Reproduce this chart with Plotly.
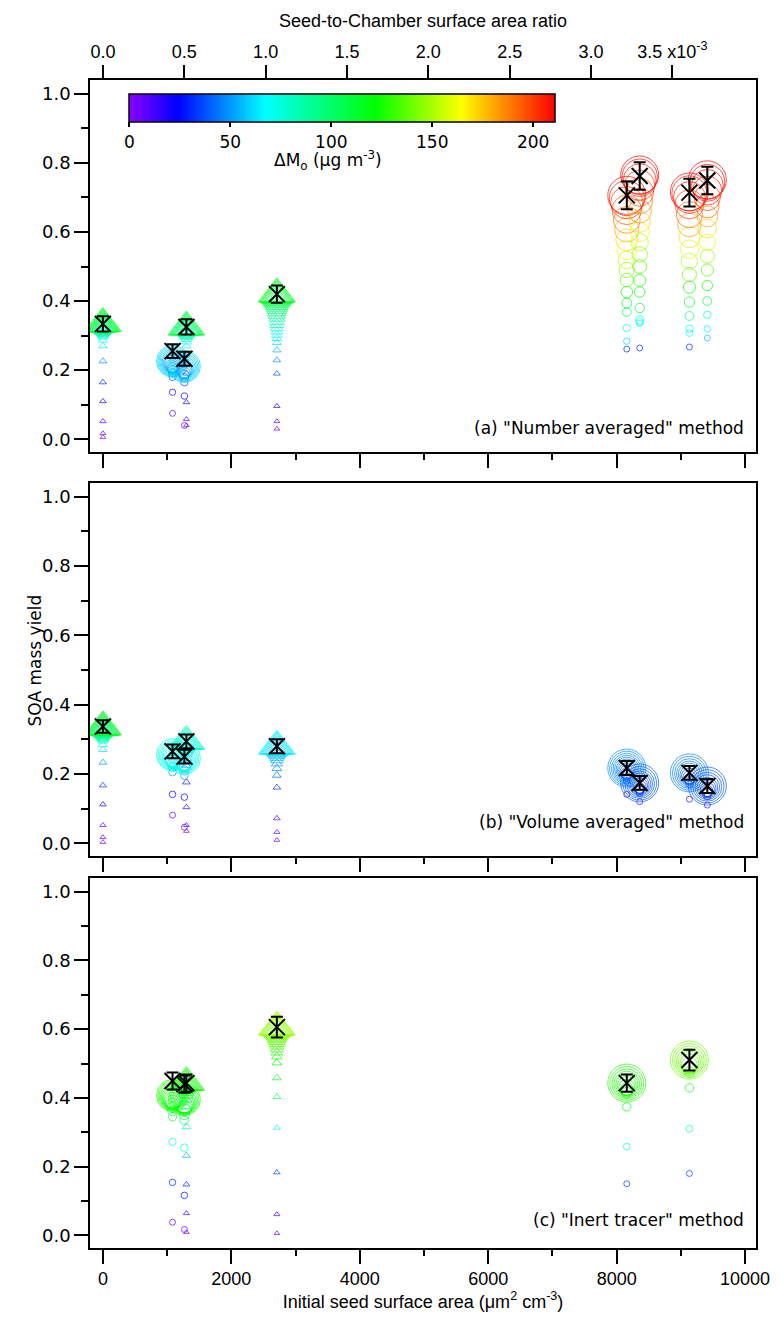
import numpy as np
import plotly.graph_objects as go

# ---------------- data ----------------
# initial seed surface area of each experiment (um2 cm-3)
SA_T1, SA_C1, SA_C2, SA_T2, SA_T3 = 0, 1084, 1269, 1300, 2709
SA_H1, SA_H2, SA_H3, SA_H4 = 8158, 8359, 9133, 9412

# seed-to-chamber surface area ratio (x1e-3) per unit of seed surface area
RATIO_PER_SA = 1 / 2534.0

# colour scale values (Delta Mo, ug m-3)
dmo_min, dmo_max = 0, 211
cbar_ticks = [0, 50, 100, 150, 200]

# ---- panel (a) "Number averaged" ----
a_T1_y = [0.006, 0.017, 0.052, 0.110, 0.165, 0.226, 0.270, 0.287, 0.296, 0.300, 0.303, 0.306, 0.309, 0.311, 0.313, 0.315, 0.317, 0.319, 0.321, 0.322, 0.324, 0.325, 0.326, 0.327, 0.328, 0.329, 0.330, 0.331, 0.332, 0.333, 0.334, 0.335]
a_T1_dm = [2, 4, 10, 20, 33, 50, 64, 70, 75, 78, 81, 84, 86, 88, 90, 92, 94, 96, 98, 99, 101, 102, 104, 105, 107, 108, 109, 110, 112, 113, 114, 115]
a_T2_y = [0.040, 0.058, 0.107, 0.190, 0.245, 0.270, 0.282, 0.290, 0.296, 0.300, 0.304, 0.307, 0.310, 0.312, 0.314, 0.316, 0.318, 0.319, 0.320, 0.321, 0.322, 0.323, 0.324, 0.325]
a_T2_dm = [5, 8, 18, 40, 55, 65, 70, 74, 78, 81, 84, 87, 90, 92, 94, 96, 98, 100, 102, 103, 105, 106, 108, 109]
a_T3_y = [0.030, 0.052, 0.096, 0.190, 0.229, 0.258, 0.280, 0.292, 0.302, 0.312, 0.322, 0.332, 0.342, 0.352, 0.361, 0.369, 0.377, 0.384, 0.390, 0.396, 0.401, 0.405, 0.409, 0.412, 0.415, 0.417, 0.419, 0.421]
a_T3_dm = [4, 7, 14, 38, 48, 56, 62, 66, 70, 74, 78, 82, 85, 88, 91, 94, 97, 100, 103, 105, 107, 109, 111, 113, 114, 116, 117, 118]
a_C1_y = [0.075, 0.136, 0.180, 0.192, 0.200, 0.206, 0.210, 0.213, 0.216, 0.218, 0.220, 0.221, 0.222, 0.223, 0.224, 0.225, 0.226]
a_C1_dm = [8, 20, 36, 41, 45, 48, 50, 52, 54, 55, 56, 57, 58, 59, 60, 60.5, 61]
a_C2_y = [0.040, 0.125, 0.165, 0.178, 0.186, 0.192, 0.197, 0.200, 0.203, 0.205, 0.207, 0.208, 0.209, 0.210, 0.211]
a_C2_dm = [6, 22, 36, 42, 46, 49, 52, 54, 56, 57, 58, 59, 60, 60.5, 61]
a_H1_y = [0.261, 0.284, 0.322, 0.368, 0.394, 0.426, 0.461, 0.490, 0.519, 0.548, 0.577, 0.606, 0.635, 0.664, 0.685, 0.698, 0.706]
a_H1_dm = [30, 62, 70, 105, 115, 125, 135, 145, 155, 163, 172, 180, 188, 196, 202, 206, 209]
a_H2_y = [0.264, 0.335, 0.340, 0.345, 0.380, 0.426, 0.460, 0.500, 0.535, 0.570, 0.600, 0.630, 0.660, 0.690, 0.715, 0.735, 0.750, 0.760, 0.765]
a_H2_dm = [30, 68, 70, 72, 108, 118, 126, 134, 142, 152, 162, 172, 182, 190, 197, 202, 206, 209, 211]
a_H3_y = [0.267, 0.307, 0.320, 0.357, 0.397, 0.440, 0.477, 0.515, 0.550, 0.585, 0.620, 0.650, 0.680, 0.700, 0.712, 0.716]
a_H3_dm = [32, 68, 72, 90, 112, 125, 138, 150, 160, 170, 182, 192, 200, 205, 208, 210]
a_H4_y = [0.293, 0.320, 0.360, 0.400, 0.445, 0.490, 0.530, 0.570, 0.610, 0.645, 0.675, 0.700, 0.720, 0.735, 0.745, 0.751]
a_H4_dm = [58, 66, 72, 108, 122, 135, 148, 160, 172, 182, 192, 200, 205, 208, 210, 211]
a_final_sa = [SA_T1, SA_C1, SA_C2, SA_T2, SA_T3, SA_H1, SA_H2, SA_H3, SA_H4]
a_final_y = [0.334, 0.255, 0.233, 0.325, 0.420, 0.706, 0.762, 0.714, 0.749]
a_final_err = [0.022, 0.020, 0.020, 0.022, 0.025, 0.040, 0.040, 0.040, 0.040]

# ---- panel (b) "Volume averaged" ----
b_T1_y = [0.003, 0.017, 0.052, 0.112, 0.167, 0.233, 0.270, 0.285, 0.295, 0.299, 0.302, 0.305, 0.308, 0.311, 0.313, 0.315, 0.317, 0.319, 0.321, 0.323, 0.324, 0.325, 0.327, 0.328, 0.329, 0.330, 0.331, 0.332, 0.333, 0.334, 0.335, 0.336]
b_T1_dm = [2, 4, 10, 20, 33, 50, 64, 70, 75, 78, 81, 84, 86, 88, 90, 92, 94, 96, 98, 99, 101, 102, 104, 105, 107, 108, 109, 110, 112, 113, 114, 115]
b_T2_y = [0.035, 0.052, 0.104, 0.176, 0.225, 0.245, 0.257, 0.265, 0.271, 0.276, 0.280, 0.283, 0.286, 0.288, 0.290, 0.291, 0.292, 0.293, 0.294]
b_T2_dm = [5, 8, 16, 32, 48, 54, 58, 62, 65, 68, 70, 72, 74, 76, 77, 78, 79, 80, 81]
b_T3_y = [0.009, 0.032, 0.072, 0.161, 0.196, 0.216, 0.230, 0.240, 0.248, 0.254, 0.259, 0.263, 0.267, 0.270, 0.273, 0.275, 0.277, 0.278, 0.279, 0.280]
b_T3_dm = [2, 5, 10, 32, 42, 48, 51, 53, 55, 57, 58, 59, 60, 61, 62, 63, 63.5, 64, 64.5, 65]
b_C1_y = [0.081, 0.141, 0.205, 0.220, 0.230, 0.236, 0.241, 0.245, 0.248, 0.250, 0.252, 0.253, 0.254, 0.255]
b_C1_dm = [9, 24, 50, 57, 62, 65, 67, 69, 70, 71, 72, 73, 74, 75]
b_C2_y = [0.046, 0.133, 0.195, 0.210, 0.220, 0.227, 0.232, 0.236, 0.239, 0.241, 0.243, 0.244, 0.245]
b_C2_dm = [7, 25, 50, 57, 61, 64, 66, 68, 70, 71, 72, 73, 74]
b_H1_y = [0.141, 0.180, 0.190, 0.197, 0.202, 0.206, 0.209, 0.211, 0.212, 0.213, 0.214, 0.215, 0.216, 0.217]
b_H1_dm = [15, 30, 34, 37, 40, 42, 44, 45, 46, 47, 47.5, 48, 48.5, 49]
b_H2_y = [0.120, 0.145, 0.153, 0.159, 0.163, 0.166, 0.168, 0.170, 0.171, 0.172, 0.173, 0.174]
b_H2_dm = [12, 26, 30, 33, 35, 36.5, 37.5, 38.5, 39, 39.5, 40, 40.5]
b_H3_y = [0.127, 0.170, 0.180, 0.186, 0.190, 0.194, 0.197, 0.199, 0.200, 0.201, 0.202, 0.203]
b_H3_dm = [15, 30, 34, 37, 39, 41, 43, 44, 45, 45.5, 46, 46.5]
b_H4_y = [0.110, 0.135, 0.145, 0.151, 0.155, 0.158, 0.160, 0.162, 0.163, 0.164, 0.165]
b_H4_dm = [12, 26, 30, 33, 35, 36.5, 37.5, 38.5, 39, 39.5, 40]
b_final_sa = [SA_T1, SA_C1, SA_C2, SA_T2, SA_T3, SA_H1, SA_H2, SA_H3, SA_H4]
b_final_y = [0.337, 0.265, 0.250, 0.294, 0.280, 0.217, 0.174, 0.203, 0.165]
b_final_err = [0.018, 0.020, 0.020, 0.020, 0.020, 0.020, 0.020, 0.020, 0.020]

# ---- panel (c) "Inert tracer" ----
c_C1_y = [0.038, 0.154, 0.272, 0.345, 0.362, 0.373, 0.381, 0.387, 0.392, 0.396, 0.399, 0.401, 0.403, 0.405, 0.406, 0.407]
c_C1_dm = [8, 30, 75, 103, 109, 113, 116, 119, 121, 123, 124, 125, 126, 127, 127.5, 128]
c_C2_y = [0.017, 0.116, 0.255, 0.335, 0.352, 0.364, 0.372, 0.378, 0.383, 0.387, 0.390, 0.392, 0.394, 0.395]
c_C2_dm = [5, 25, 72, 101, 107, 112, 115, 118, 120, 122, 123, 124, 125, 126]
c_T2_y = [0.009, 0.064, 0.148, 0.232, 0.316, 0.375, 0.395, 0.408, 0.417, 0.424, 0.429, 0.433, 0.436, 0.438, 0.440, 0.442, 0.443, 0.444, 0.445]
c_T2_dm = [3, 12, 30, 55, 80, 103, 109, 113, 116, 118, 120, 121, 122, 123, 124, 125, 126, 126.5, 127]
c_T3_y = [0.006, 0.061, 0.183, 0.313, 0.403, 0.458, 0.502, 0.520, 0.532, 0.542, 0.551, 0.559, 0.566, 0.572, 0.577, 0.582, 0.586, 0.590, 0.594, 0.597, 0.600, 0.602, 0.604, 0.605, 0.606]
c_T3_dm = [2, 12, 35, 75, 100, 112, 122, 126, 129, 131, 133, 135, 137, 138, 139, 140, 141, 142, 143, 144, 145, 146, 146.5, 147, 148]
c_H1_y = [0.150, 0.258, 0.374, 0.415, 0.425, 0.431, 0.435, 0.438, 0.440, 0.441, 0.442, 0.443]
c_H1_dm = [35, 75, 112, 119, 122, 124, 125, 126, 126.5, 127, 127.5, 128]
c_H3_y = [0.180, 0.310, 0.429, 0.475, 0.488, 0.496, 0.501, 0.504, 0.506, 0.508, 0.509, 0.510]
c_H3_dm = [35, 80, 115, 128, 132, 135, 137, 138, 139, 140, 140.5, 141]
c_final_sa = [SA_C1, SA_C2, SA_T2, SA_T3, SA_H1, SA_H3]
c_final_y = [0.449, 0.440, 0.443, 0.606, 0.443, 0.510]
c_final_err = [0.025, 0.025, 0.025, 0.030, 0.025, 0.030]

# axis ranges / ticks
x_range = [-201, 10170]
y_range = [-0.037, 1.04]
top_ticks = [0, 0.5, 1.0, 1.5, 2.0, 2.5, 3.0, 3.5]
top_ticktext = ["0.0", "0.5", "1.0", "1.5", "2.0", "2.5", "3.0", "3.5 x10<sup>-3</sup>"]

# ---------------- styles ----------------
colorscale = [
    [0.0, "rgb(140,0,255)"],
    [0.114, "rgb(0,0,255)"],
    [0.32, "rgb(0,255,255)"],
    [0.58, "rgb(0,255,0)"],
    [0.78, "rgb(255,255,0)"],
    [1.0, "rgb(255,0,0)"],
]
TICK_FONT = dict(family="DejaVu Sans", size=18, color="black")
CB_FONT = dict(family="DejaVu Sans", size=17, color="black")
X_FONT = dict(family="Liberation Sans", size=18, color="black")
LBL_FONT = dict(family="DejaVu Sans", size=17, color="black")


def growth_sizes(n, smin, smax):
    t = np.arange(n) / max(n - 1, 1)
    return smin + (smax - smin) * t ** 1.5


fig = go.Figure()

panel_axes = {"a": ("x", "y"), "b": ("x2", "y2"), "c": ("x3", "y3")}

series = [
    ("a", SA_T1, a_T1_y, a_T1_dm, "T"), ("a", SA_T2, a_T2_y, a_T2_dm, "T"),
    ("a", SA_T3, a_T3_y, a_T3_dm, "T"), ("a", SA_C1, a_C1_y, a_C1_dm, "C"),
    ("a", SA_C2, a_C2_y, a_C2_dm, "C"), ("a", SA_H1, a_H1_y, a_H1_dm, "H"),
    ("a", SA_H2, a_H2_y, a_H2_dm, "H"), ("a", SA_H3, a_H3_y, a_H3_dm, "H"),
    ("a", SA_H4, a_H4_y, a_H4_dm, "H"),
    ("b", SA_T1, b_T1_y, b_T1_dm, "T"), ("b", SA_T2, b_T2_y, b_T2_dm, "T"),
    ("b", SA_T3, b_T3_y, b_T3_dm, "T"), ("b", SA_C1, b_C1_y, b_C1_dm, "C"),
    ("b", SA_C2, b_C2_y, b_C2_dm, "C"), ("b", SA_H1, b_H1_y, b_H1_dm, "H"),
    ("b", SA_H2, b_H2_y, b_H2_dm, "H"), ("b", SA_H3, b_H3_y, b_H3_dm, "H"),
    ("b", SA_H4, b_H4_y, b_H4_dm, "H"),
    ("c", SA_C1, c_C1_y, c_C1_dm, "C"), ("c", SA_C2, c_C2_y, c_C2_dm, "C"),
    ("c", SA_T2, c_T2_y, c_T2_dm, "T"), ("c", SA_T3, c_T3_y, c_T3_dm, "T"),
    ("c", SA_H1, c_H1_y, c_H1_dm, "H"), ("c", SA_H3, c_H3_y, c_H3_dm, "H"),
]
style = {
    "T": ("triangle-up-open", 5, 32),
    "C": ("circle-open", 6, 32),
    "H": ("circle-open", 6, 38),
}

for panel, sa, ys, dms, kind in series:
    xa, ya = panel_axes[panel]
    sym, smin, smax = style[kind]
    fig.add_trace(go.Scatter(
        x=[sa] * len(ys), y=ys, mode="markers", xaxis=xa, yaxis=ya,
        showlegend=False, hoverinfo="skip",
        marker=dict(symbol=sym, size=growth_sizes(len(ys), smin, smax),
                    color=dms, coloraxis="coloraxis", line=dict(width=1)),
    ))

for panel, fx, fy, fe in [("a", a_final_sa, a_final_y, a_final_err),
                          ("b", b_final_sa, b_final_y, b_final_err),
                          ("c", c_final_sa, c_final_y, c_final_err)]:
    xa, ya = panel_axes[panel]
    fig.add_trace(go.Scatter(
        x=fx, y=fy, mode="markers", xaxis=xa, yaxis=ya, showlegend=False,
        hoverinfo="skip",
        marker=dict(symbol="x-thin-open", size=16, color="black",
                    line=dict(width=2, color="black")),
        error_y=dict(type="data", array=fe, visible=True, color="black",
                     thickness=2, width=6),
    ))

# empty trace so the top (ratio) axis is drawn
fig.add_trace(go.Scatter(x=[], y=[], xaxis="x4", yaxis="y", showlegend=False,
                         hoverinfo="skip"))

common_x = dict(range=x_range, showline=True, linewidth=1.5, linecolor="black",
                mirror=True, ticks="outside", ticklen=14, tickwidth=1.5,
                tickcolor="black", tick0=0, dtick=2000, tickformat="d",
                showgrid=False, zeroline=False,
                minor=dict(dtick=1000, ticks="outside", ticklen=6,
                           tickwidth=1.5, tickcolor="black"))
common_y = dict(range=y_range, showline=True, linewidth=1.5, linecolor="black",
                mirror=True, ticks="outside", ticklen=14, tickwidth=1.5,
                tickcolor="black", tick0=0, dtick=0.2, tickformat=".1f",
                showgrid=False, zeroline=False, tickfont=TICK_FONT,
                minor=dict(dtick=0.1, ticks="outside", ticklen=7,
                           tickwidth=1.5, tickcolor="black"))

dom_a = [0.6815, 1.0]
dom_b = [0.3356, 0.6550]
dom_c = [0.0, 0.3168]

# page body has an 8px margin, so the figure is 8px smaller than the window
fig.update_layout(
    width=774, height=1315,
    margin=dict(l=82, r=22, t=72, b=75),
    paper_bgcolor="white", plot_bgcolor="white",
    xaxis=dict(common_x, anchor="y", showticklabels=False),
    xaxis2=dict(common_x, anchor="y2", showticklabels=False),
    xaxis3=dict(common_x, anchor="y3", tickfont=X_FONT,
                title=dict(text="Initial seed surface area (μm<sup>2</sup> cm<sup>-3</sup>)",
                           font=X_FONT, standoff=6)),
    xaxis4=dict(overlaying="x", side="top", anchor="y",
                range=[x_range[0] * RATIO_PER_SA, x_range[1] * RATIO_PER_SA],
                tickvals=top_ticks, ticktext=top_ticktext, ticks="outside",
                ticklen=14, tickwidth=1.5, tickcolor="black", showline=False,
                showgrid=False, zeroline=False, tickfont=X_FONT,
                title=dict(text="Seed-to-Chamber surface area ratio",
                           font=X_FONT, standoff=6)),
    yaxis=dict(common_y, domain=dom_a, anchor="x"),
    yaxis2=dict(common_y, domain=dom_b, anchor="x2"),
    yaxis3=dict(common_y, domain=dom_c, anchor="x3"),
    coloraxis=dict(
        cmin=dmo_min, cmax=dmo_max, colorscale=colorscale,
        colorbar=dict(
            orientation="h", x=0.379, xanchor="center", y=0.988,
            yanchor="top", len=0.639, lenmode="fraction", thickness=28,
            thicknessmode="pixels", xpad=0, ypad=0, outlinewidth=1.5,
            outlinecolor="black", ticks="outside", ticklen=5, tickwidth=2,
            tickcolor="black", tickvals=cbar_ticks, tickfont=CB_FONT,
        ),
    ),
    annotations=[
        dict(text="ΔM<sub>o</sub> (μg m<sup>-3</sup>)", xref="paper",
             yref="paper", x=0.358, y=0.931, xanchor="center",
             yanchor="middle", showarrow=False, font=LBL_FONT),
        dict(text="SOA mass yield", xref="paper", yref="paper", x=-0.082,
             y=0.5034, xanchor="center", yanchor="middle", textangle=-90,
             showarrow=False, font=LBL_FONT),
        dict(text='(a) "Number averaged" method', xref="paper", yref="paper",
             x=0.985, y=0.702, xanchor="right", yanchor="middle",
             showarrow=False, font=LBL_FONT),
        dict(text='(b) "Volume averaged" method', xref="paper", yref="paper",
             x=0.985, y=0.3647, xanchor="right", yanchor="middle",
             showarrow=False, font=LBL_FONT),
        dict(text='(c) "Inert tracer" method', xref="paper", yref="paper",
             x=0.985, y=0.024, xanchor="right", yanchor="middle",
             showarrow=False, font=LBL_FONT),
    ],
)

fig.write_html("out.html")
